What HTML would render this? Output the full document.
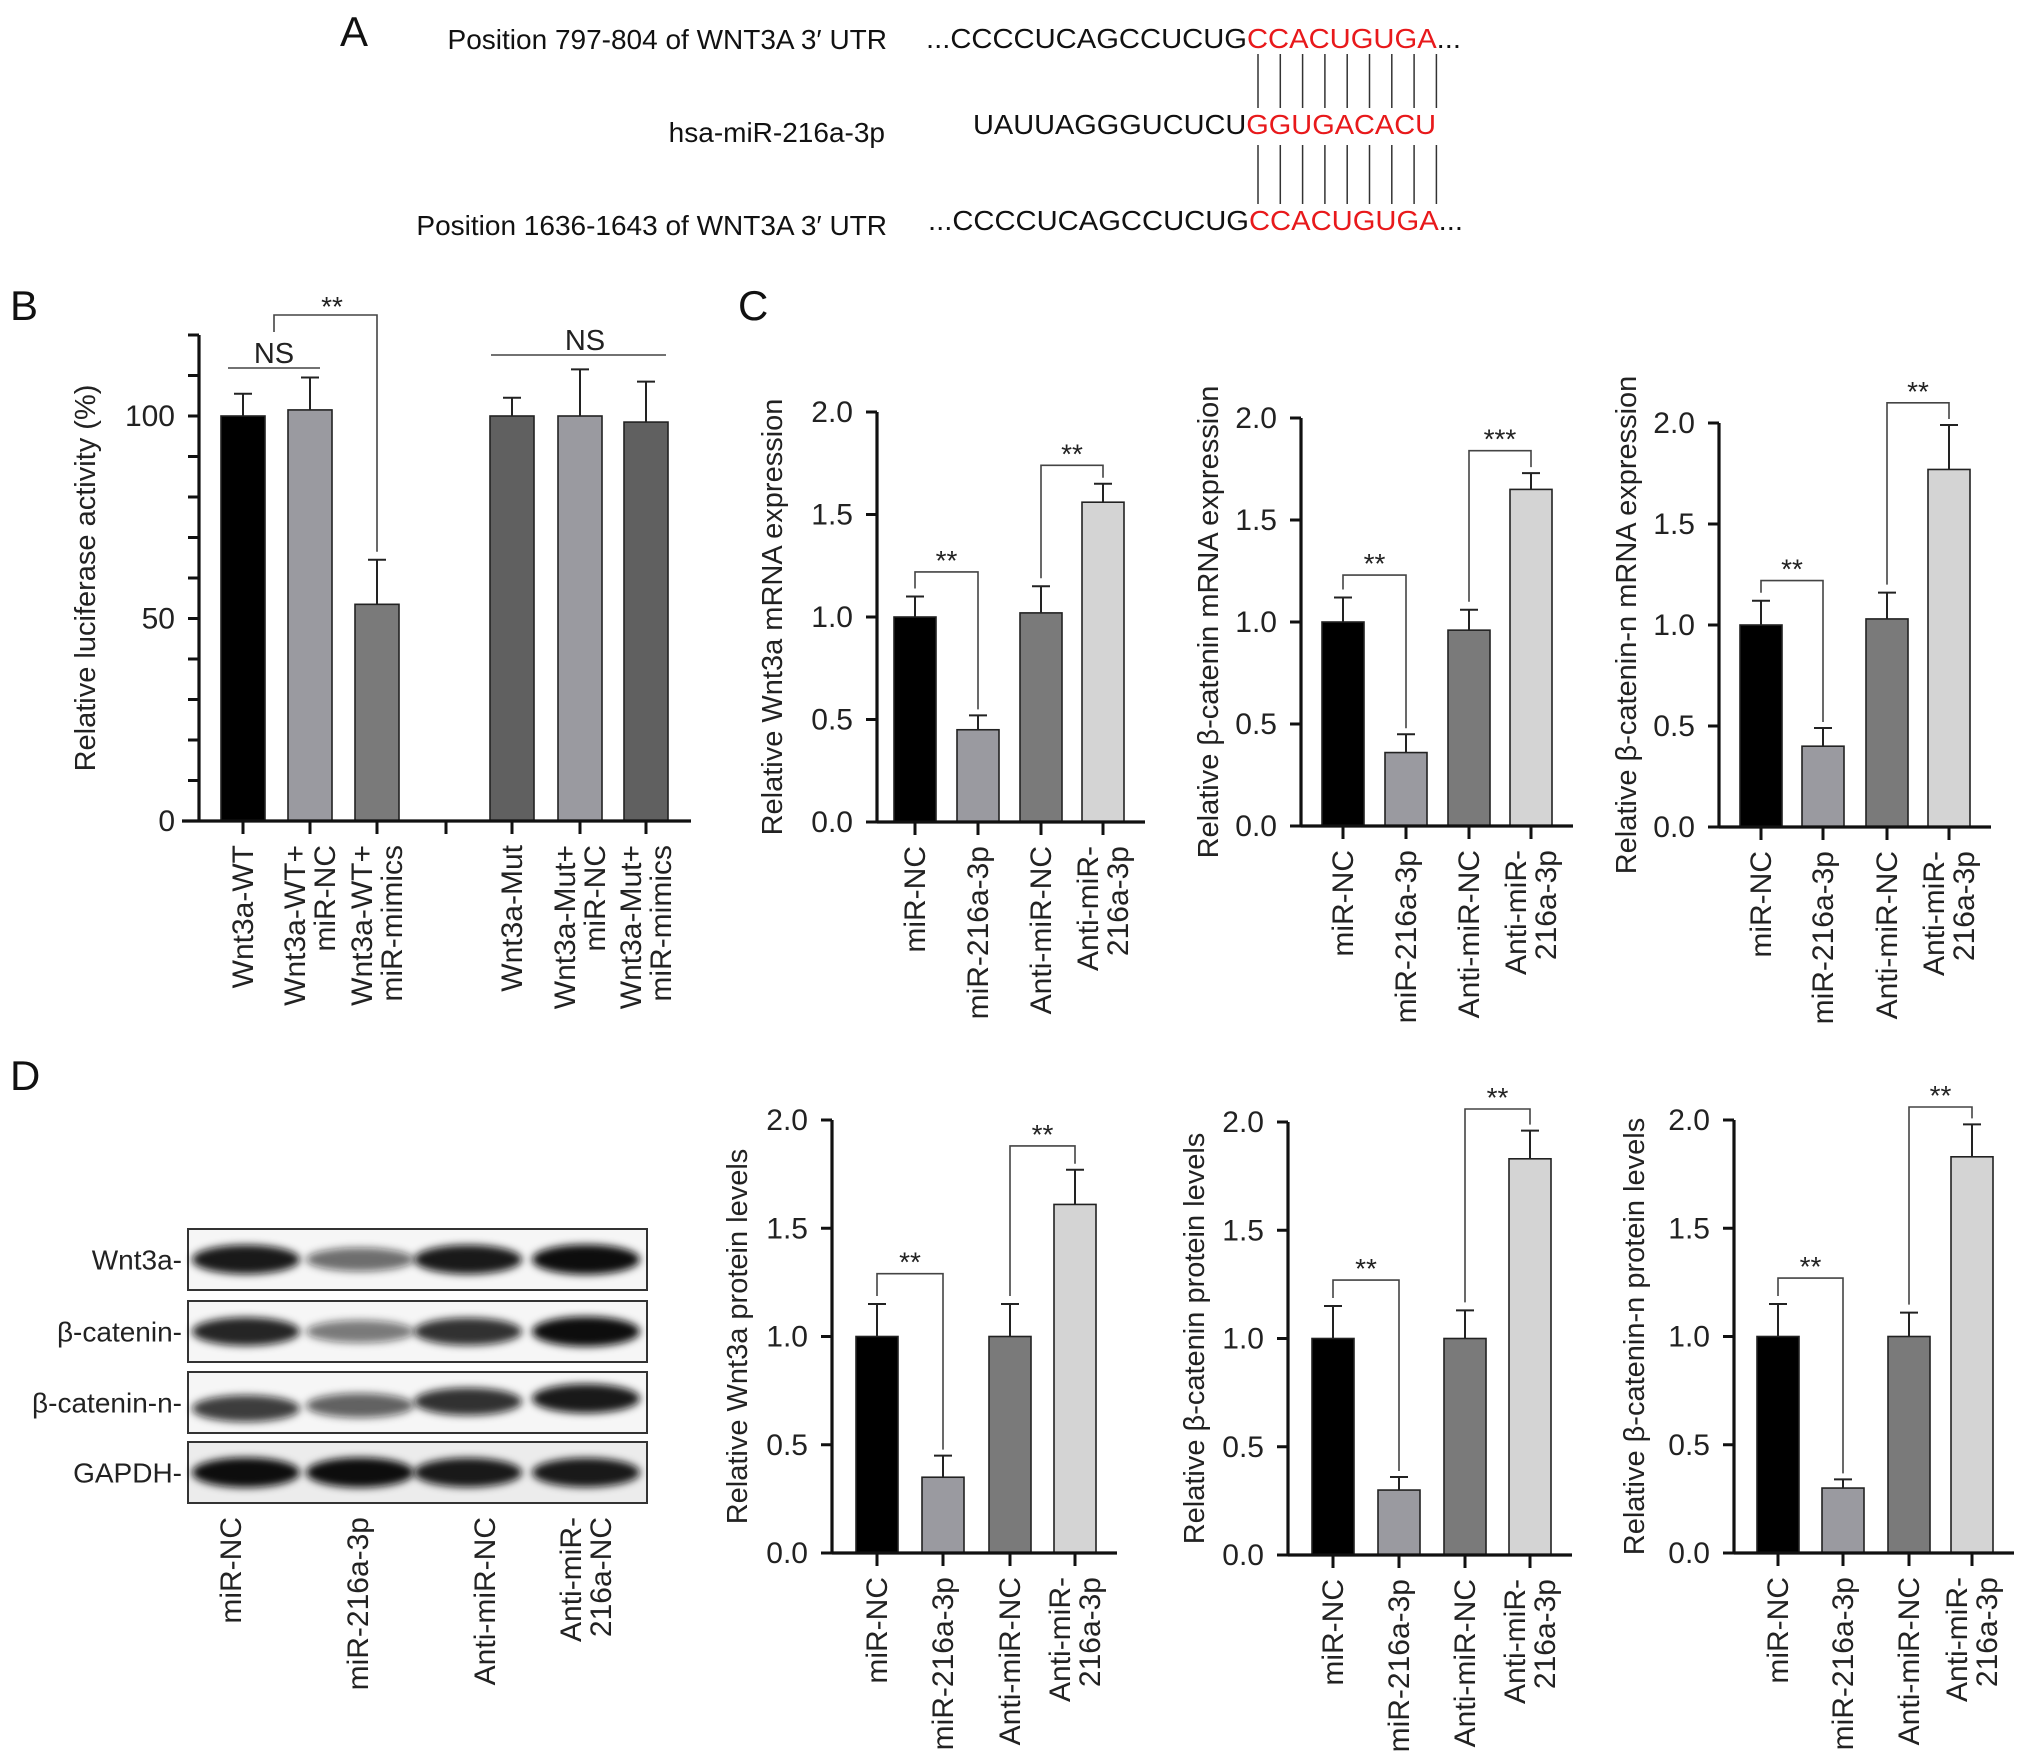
<!DOCTYPE html>
<html><head><meta charset="utf-8">
<style>
html,body{margin:0;padding:0;background:#fff;}
svg{display:block;font-family:"Liberation Sans",Arial,sans-serif;}
</style></head>
<body>
<svg id="fig" xmlns="http://www.w3.org/2000/svg" width="2032" height="1761" viewBox="0 0 2032 1761">
<defs><filter id="blur" x="-30%" y="-100%" width="160%" height="300%"><feGaussianBlur stdDeviation="4"/></filter></defs>
<!-- Panel A -->
<g font-size="28" fill="#111">
  <text x="340" y="46" font-size="42">A</text>
  <text x="887" y="49" text-anchor="end">Position 797-804 of WNT3A 3′ UTR</text>
  <text x="926" y="48" textLength="535" lengthAdjust="spacingAndGlyphs">...CCCCUCAGCCUCUG<tspan fill="#e8191b">CCACUGUGA</tspan>...</text>
  <text x="885" y="142" text-anchor="end">hsa-miR-216a-3p</text>
  <text x="973" y="134" textLength="463" lengthAdjust="spacingAndGlyphs">UAUUAGGGUCUCU<tspan fill="#e8191b">GGUGACACU</tspan></text>
  <text x="887" y="235" text-anchor="end">Position 1636-1643 of WNT3A 3′ UTR</text>
  <text x="928" y="230" textLength="535" lengthAdjust="spacingAndGlyphs">...CCCCUCAGCCUCUG<tspan fill="#e8191b">CCACUGUGA</tspan>...</text>
  <g id="pairs" stroke="#333" stroke-width="1.5"></g>
</g>
<g id="charts"></g>
<g id="blot"></g>
</svg>
<script>
// ---------- data ----------
const bCategories=[["Wnt3a-WT"],["Wnt3a-WT+","miR-NC"],["Wnt3a-WT+","miR-mimics"],["Wnt3a-Mut"],["Wnt3a-Mut+","miR-NC"],["Wnt3a-Mut+","miR-mimics"]];
const bValues=[100,101.5,53.5,100,100,98.5];
const bErrors=[105.5,109.5,64.5,104.5,111.5,108.5];
const bTicks=[0,50,100];

const cdCategories=[["miR-NC"],["miR-216a-3p"],["Anti-miR-NC"],["Anti-miR-","216a-3p"]];
const cdTicks=["0.0","0.5","1.0","1.5","2.0"];
const c1Values=[1.0,0.45,1.02,1.56];
const c1Errors=[1.10,0.52,1.15,1.65];
const c2Values=[1.0,0.36,0.96,1.65];
const c2Errors=[1.12,0.45,1.06,1.73];
const c3Values=[1.0,0.40,1.03,1.77];
const c3Errors=[1.12,0.49,1.16,1.99];
const d1Values=[1.0,0.35,1.0,1.61];
const d1Errors=[1.15,0.45,1.15,1.77];
const d2Values=[1.0,0.30,1.0,1.83];
const d2Errors=[1.15,0.36,1.13,1.96];
const d3Values=[1.0,0.30,1.0,1.83];
const d3Errors=[1.15,0.34,1.11,1.98];
const c1Sig=[[0,1,1.22,"**"],[2,3,1.74,"**"]];
const c2Sig=[[0,1,1.23,"**"],[2,3,1.84,"***"]];
const c3Sig=[[0,1,1.22,"**"],[2,3,2.10,"**"]];
const d1Sig=[[0,1,1.29,"**"],[2,3,1.88,"**"]];
const d2Sig=[[0,1,1.27,"**"],[2,3,2.06,"**"]];
const d3Sig=[[0,1,1.27,"**"],[2,3,2.06,"**"]];
const blotRows=["Wnt3a","β-catenin","β-catenin-n","GAPDH"];
const blotLanes=["miR-NC","miR-216a-3p","Anti-miR-NC",["Anti-miR-","216a-NC"]];
const blotIntensity=[[0.95,0.6,0.95,1.0],[0.9,0.55,0.85,1.0],[0.8,0.65,0.85,0.95],[1,1,0.95,0.95]];

const NS="http://www.w3.org/2000/svg";
const root=document.getElementById('charts');
function mk(tag,attrs,parent){const e=document.createElementNS(NS,tag);for(const k in attrs)e.setAttribute(k,attrs[k]);(parent||root).appendChild(e);return e;}

const pairs=document.getElementById('pairs');
for(let i=0;i<9;i++){const x=1258+i*22.3;
 let l=mk('line',{x1:x,y1:54,x2:x,y2:108},pairs);
 
 
 l=mk('line',{x1:x,y1:145,x2:x,y2:204},pairs);
 
 }

const barColors4=["#000","#9a9aa0","#7a7a7a","#d4d4d4"];
const FS=30, LS=30;

function chart(o){
 const g=mk('g',{});
 
 
 const y=v=>o.y0-(v-o.vmin)/(o.vmax-o.vmin)*(o.y0-o.yTop);
 o.values.forEach((v,i)=>{
  const cx=o.xs[i];
  const r=mk('rect',{x:cx-o.bw/2,y:y(v),width:o.bw,height:o.y0-y(v),fill:o.colors[i],stroke:"#222","stroke-width":1.6},g);
  
  
  const e=mk('path',{d:`M${cx},${y(v)}V${y(o.errors[i])}M${cx-9},${y(o.errors[i])}H${cx+9}`,stroke:"#222","stroke-width":2,fill:"none"},g);
  
  
 });
 const ax=mk('path',{d:`M${o.ax},${o.yTop}V${o.y0}M${o.xStart},${o.y0}H${o.xEnd}`,stroke:"#111","stroke-width":3.2,fill:"none"},g);
 
 
 o.minor.forEach(v=>{const t=mk('line',{x1:o.ax-11,x2:o.ax,y1:y(v),y2:y(v),stroke:"#111","stroke-width":3},g);
  
  });
 o.ticks.forEach(t=>{const tx=mk('text',{x:o.ax-24,y:y(+t)+10,"text-anchor":"end","font-size":FS,fill:"#222"},g);tx.textContent=t;
  
  });
 const yt=mk('text',{transform:`translate(${o.ylx},${(o.y0+o.yTop)/2+o.ylOff}) rotate(-90)`,"text-anchor":"middle","font-size":29,fill:"#222"},g);
 yt.textContent=o.ylabel;
 
 
 o.tickXs.forEach(cx=>{const t=mk('line',{x1:cx,x2:cx,y1:o.y0,y2:o.y0+13,stroke:"#111","stroke-width":3},g);
  
  });
 o.cats.forEach((lines,i)=>{const cx=o.xs[i];
  lines.forEach((ln,k)=>{const dx=(k-(lines.length-1)/2)*LS+10;
   const t=mk('text',{transform:`translate(${cx+dx},${o.y0+24}) rotate(-90)`,"text-anchor":"end","font-size":FS,fill:"#222"},g);
   t.textContent=ln;
   
   });});
 (o.sig||[]).forEach(s=>{const [a,b,h,lab]=s;const xa=o.xs[a],xb=o.xs[b];
  const p=mk('path',{d:`M${xa},${y(o.errors[a])-8}V${y(h)}H${xb}V${y(o.errors[b])-6}`,stroke:"#444","stroke-width":1.6,fill:"none"},g);
  
  
  const t=mk('text',{x:(xa+xb)/2,y:y(h)-2,"text-anchor":"middle","font-size":28,fill:"#222"},g);t.textContent=lab;
  
  });
 return {g,y};
}

const bxs=[243,310,377,512,580,646];
const B=chart({name:'luciferase-chart',values:bValues,errors:bErrors,xs:bxs,bw:44,colors:["#000","#9a9aa0","#7a7a7a","#606060","#9a9aa0","#606060"],
 y0:821,yTop:335,vmin:0,vmax:120,ax:199,xStart:182,xEnd:691,ticks:bTicks.map(String),minor:[0,10,20,30,40,50,60,70,80,90,100,110,120],
 ylabel:"Relative luciferase activity (%)",ylx:95,ylOff:0,cats:bCategories,tickXs:[243,310,377,446,512,580,646],sig:[]});
{const g=B.g,y=B.y;
 const ns1=mk('path',{d:`M228,368H320`,stroke:"#444","stroke-width":1.6},g);
 let t=mk('text',{x:274,y:363,"text-anchor":"middle","font-size":29,fill:"#222"},g);t.textContent="NS";
 const br=mk('path',{d:`M274,332V315H377V${y(bErrors[2])-8}`,stroke:"#444","stroke-width":1.6,fill:"none"},g);
 t=mk('text',{x:332,y:316,"text-anchor":"middle","font-size":28,fill:"#222"},g);t.textContent="**";
 const ns2=mk('path',{d:`M491,355H666`,stroke:"#444","stroke-width":1.6},g);
 t=mk('text',{x:585,y:350,"text-anchor":"middle","font-size":29,fill:"#222"},g);t.textContent="NS";
}
function letter(ch,x,yy){const t=mk('text',{x:x,y:yy,"font-size":42,fill:"#111"});t.textContent=ch;
 
 }
letter('B',10,320);letter('C',738,320);letter('D',10,1090);

const minors=[0,0.5,1,1.5,2];
function cd(name,values,errors,sig,ax,y0,yTop,xs,ylabel,ylx){
 chart({name,values,errors,xs,bw:42,colors:barColors4,y0,yTop,vmin:0,vmax:2,ax,xStart:ax,xEnd:xs[3]+42,ticks:cdTicks,minor:minors,
  ylabel,ylx,ylOff:0,cats:cdCategories,tickXs:xs,sig});
}
cd('wnt3a-mrna-chart',c1Values,c1Errors,c1Sig,877,822,412,[915,978,1041,1103],"Relative Wnt3a mRNA expression",782);
cd('beta-catenin-mrna-chart',c2Values,c2Errors,c2Sig,1301,826,418,[1343,1406,1469,1531],"Relative β-catenin mRNA expression",1218);
cd('beta-catenin-n-mrna-chart',c3Values,c3Errors,c3Sig,1719,827,423,[1761,1823,1887,1949],"Relative β-catenin-n mRNA expression",1636);
cd('wnt3a-protein-chart',d1Values,d1Errors,d1Sig,832,1553,1120,[877,943,1010,1075],"Relative Wnt3a protein levels",747);
cd('beta-catenin-protein-chart',d2Values,d2Errors,d2Sig,1288,1555,1122,[1333,1399,1465,1530],"Relative β-catenin protein levels",1204);
cd('beta-catenin-n-protein-chart',d3Values,d3Errors,d3Sig,1734,1553,1120,[1778,1843,1909,1972],"Relative β-catenin-n protein levels",1644);

const blot=document.getElementById('blot');
const rowTop=[1229,1301,1372,1442],rowH=61,laneX=[246,360,468,586];
blotRows.forEach((name,r)=>{
 const box=mk('rect',{x:188,y:rowTop[r],width:459,height:rowH,fill:r==3?"#ececec":"#f6f6f6",stroke:"#333","stroke-width":2},blot);
 
 
 blotIntensity[r].forEach((v,i)=>{
  const e=mk('ellipse',{cx:laneX[i],cy:rowTop[r]+rowH/2+ (r==2?[6,3,-1,-4][i]:0),rx:54,ry:7+8*v,fill:"#111","fill-opacity":v,filter:"url(#blur)"},blot);
  
  
 });
 const t=mk('text',{x:182,y:rowTop[r]+rowH/2+10,"text-anchor":"end","font-size":28,fill:"#222"},blot);t.textContent=name+"-";
 
 
});
blotLanes.forEach((lab,i)=>{const lines=Array.isArray(lab)?lab:[lab];
 lines.forEach((ln,k)=>{const dx=(k-(lines.length-1)/2)*LS+10;
  const t=mk('text',{transform:`translate(${[231,358,485,586][i]+dx},1517) rotate(-90)`,"text-anchor":"end","font-size":FS,fill:"#222"},blot);
  t.textContent=ln;
  
  });});
</script>
</body></html>
